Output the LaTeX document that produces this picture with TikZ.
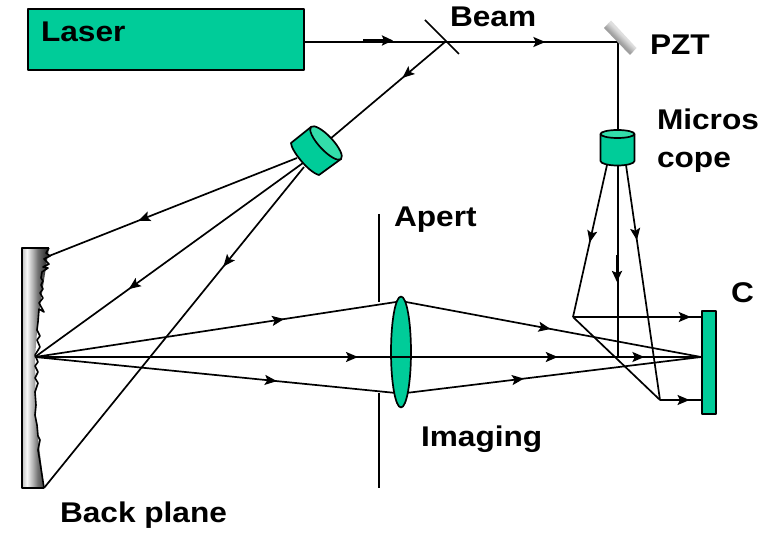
\documentclass[tikz,border=0pt]{standalone}
\usepackage{fontspec}
\setmainfont{Liberation Sans}[FakeStretch=1.11]
\usetikzlibrary{arrows.meta,decorations.markings,calc,shapes.geometric}
\definecolor{optgreen}{HTML}{00CC99}
\definecolor{facegreen}{HTML}{33DDAA}
\pgfdeclarehorizontalshading{mirshade}{100bp}{color(0bp)=(black!25); color(25bp)=(black!25); color(34bp)=(black!3); color(45bp)=(black!30); color(54bp)=(black!55); color(66bp)=(black!75); color(75bp)=(black!85); color(100bp)=(black!85)}
\pgfdeclareverticalshading{pztshade}{100bp}{color(0bp)=(gray!25); color(45bp)=(gray!25); color(55bp)=(gray!75); color(100bp)=(gray!75)}
\tikzset{
  x=1pt,y=-1pt,
  ray/.style={draw=black,line width=1.7pt},
  arrowat/.style={postaction={decorate},decoration={markings,mark=at position #1 with {\arrow{Stealth[length=12pt,width=10pt,inset=2.5pt]}}}},
  boldarrow/.style={line width=2.8pt,-{Stealth[length=11pt,width=10pt,inset=2pt]}},
  greenpart/.style={draw=black,fill=optgreen,line width=1.7pt,line join=round},
  label/.style={font=\bfseries\fontsize{28.5}{28.5}\selectfont,anchor=base west,inner sep=0pt,outer sep=0pt},
}
\begin{document}
\begin{tikzpicture}
\useasboundingbox[fill=white] (0,0) rectangle (769,534);
% coordinates
\coordinate (laserout) at (303,42);
\coordinate (split) at (445,42);
\coordinate (splitA) at (425,20);
\coordinate (splitB) at (459,54);
\coordinate (turn) at (618,42);
\coordinate (micTop) at (618,130);
\coordinate (micL) at (607,165);
\coordinate (micC) at (618,165);
\coordinate (micR) at (626,165);
\coordinate (kneeL) at (573,317);
\coordinate (kneeR) at (660,400);
\coordinate (camTop) at (701,317);
\coordinate (camMid) at (701,357);
\coordinate (camBot) at (701,400);
\coordinate (axis) at (618,357);
\coordinate (mir) at (35,357);
\coordinate (mirT) at (49,256);
\coordinate (mirB) at (44,488);
\coordinate (objIn) at (330,139);
\coordinate (objA) at (297,158);
\coordinate (objB) at (303,163);
\coordinate (objC) at (304,167);
\coordinate (lensTL) at (396,302);
\coordinate (lensTR) at (406,302);
\coordinate (lensBL) at (396,393);
\coordinate (lensBR) at (406,393);
\coordinate (apT) at (379,214);
\coordinate (apTe) at (379,302);
\coordinate (apB) at (379,393);
\coordinate (apBe) at (379,488);
% back plane
\path[shading=mirshade]
  (22,248) -- (49,248) -- (44,280) -- (38,320) -- (35,357) -- (36,420) -- (44,488) -- (22,488) -- cycle;
\draw[line width=1.5pt,line join=round] (49,248) -- (22,248) -- (22,488) -- (44,488);
\draw[line width=1.6pt,line join=round] (49,248) -- (46,253) -- (50,256) -- (44,259) -- (49,264) -- (43,267) -- (48,268)
  -- (42,272) -- (41,278) -- (43,281) -- (41,285) -- (43,289) -- (40,293) -- (43,298) -- (39,303) -- (44,312) -- (39,309)
  -- (38,322) -- (37,330) -- (40,336) -- (37,340) -- (40,347) -- (35,355) -- (38,362) -- (35,366)
  -- (38,372) -- (35,378) -- (38,383) -- (35,392) -- (36,405) -- (35,415) -- (37,425) -- (38,436) -- (40,440) -- (38,450) -- (40,462) -- (42,475) -- (44,488);
% apertures
\draw[ray] (apT) -- (apTe);
\draw[ray] (apB) -- (apBe);
% beams top
\draw[ray,arrowat=0.58] (split) -- (turn);
\draw[ray] (laserout) -- (split);
\draw[boldarrow] (363,40.5) -- (393,40.5);
\draw[ray] (splitA) -- (splitB);
\draw[ray,arrowat=0.37] (split) -- (objIn);
\draw[ray] (turn) -- (micTop);
% from objective
\draw[ray,arrowat=0.64] (objA) -- (mirT);
\draw[ray,arrowat=0.65] (objB) -- (mir);
\draw[ray,arrowat=0.31] (objC) -- (mirB);
% imaging rays
\draw[ray,arrowat=0.69] (mir) -- (lensTL);
\draw[ray,arrowat=0.67] (mir) -- (lensBL);
\draw[ray,arrowat=0.485] (mir) -- (camMid);
\draw[ray,arrowat=0.785] (mir) -- (camMid);
\draw[ray,arrowat=0.915] (mir) -- (camMid);
\draw[ray,arrowat=0.49] (lensTR) -- (camMid);
\draw[ray,arrowat=0.40] (lensBR) -- (camMid);
% microscope rays
\draw[ray,arrowat=0.51] (micL) -- (kneeL);
\draw[ray,arrowat=0.32] (micR) -- (kneeR);
\draw[ray] (micC) -- (axis);
\draw[boldarrow] (617,255) -- (617,282);
\draw[ray,arrowat=0.92] (kneeL) -- (camTop);
\draw[ray] (kneeL) -- (kneeR);
\draw[ray,arrowat=0.72] (kneeR) -- (camBot);
% parts
\node[greenpart,minimum width=276pt,minimum height=61pt,inner sep=0pt,anchor=north west] (laser) at (27,8) {};
\node[greenpart,minimum width=14pt,minimum height=103pt,inner sep=0pt,anchor=north west] (camera) at (701,310) {};
% imaging lens
\node[greenpart,ellipse,minimum width=20pt,minimum height=111pt,inner sep=0pt] (lens) at (401,352) {};
\draw[ray] (lens.west |- axis) -- (lens.east |- axis);
% tilted objective
\draw[greenpart] (311,127) -- (291,143) .. controls (291,150) and (308,172) .. (319,175) -- (341,159) -- cycle;
\draw[greenpart,fill=facegreen] (326,143) ellipse [x radius=22,y radius=7,rotate=-47];
% microscope objective
\draw[greenpart] (600.5,134) -- (600.5,161) arc [start angle=180,end angle=0,x radius=17,y radius=4.5] -- (634.5,134) -- cycle;
\draw[greenpart,fill=facegreen] (617.5,134) ellipse [x radius=17,y radius=4];
% PZT mirror
\path[shading=pztshade,shading angle=135] (604,28) -- (611,20.5) -- (636.5,48) -- (630,55) -- cycle;
% labels
\node[label] (tLaser) at (41,42) {Laser};
\node[label] (tBeam) at (450,27) {Beam};
\node[label] (tPZT) at (650,55) {PZT};
\node[label] (tMicros) at (657,130) {Micros};
\begin{scope}
\clip (640,140) rectangle (769,172);
\node[label] (tCope) at (657,168) {cope};
\end{scope}
\node[label] (tApert) at (394,227) {Apert};
\node[label] (tC) at (731,303) {C};
\node[label] (tImaging) at (421,447) {Imaging};
\node[label] (tBack) at (60,523) {Back plane};
\end{tikzpicture}
\end{document}
